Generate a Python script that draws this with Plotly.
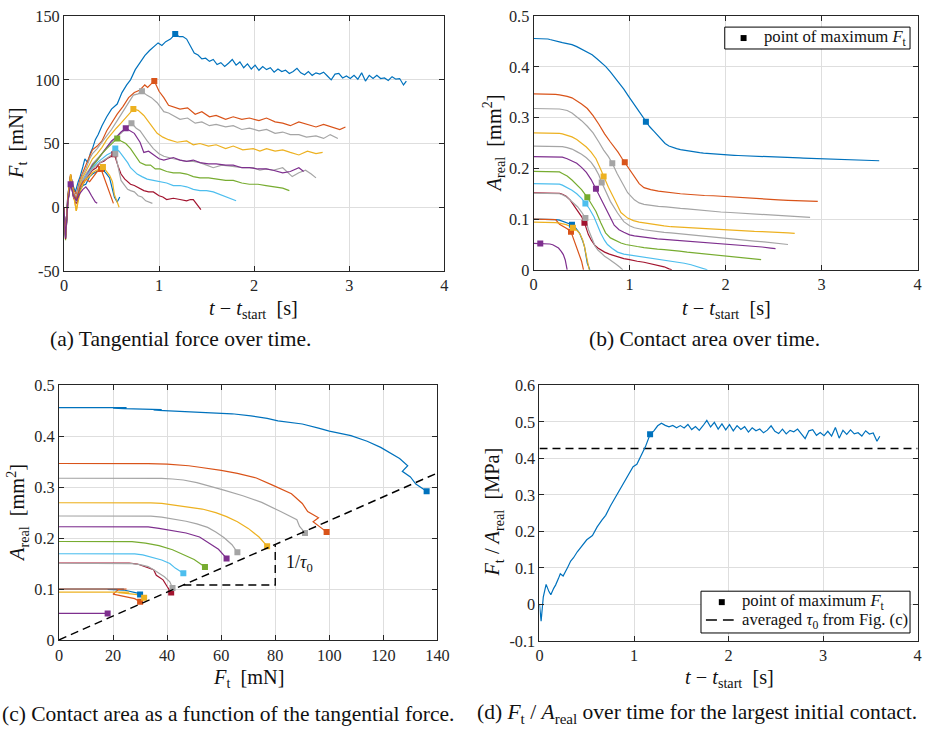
import plotly.graph_objects as go

# ---------------- data ----------------
# curve 01 (blue, largest contact)
t01 = [0, 0.017, 0.04, 0.07, 0.1, 0.12, 0.15, 0.17, 0.2, 0.22,
       0.25, 0.28, 0.3, 0.33, 0.36, 0.4, 0.45, 0.5, 0.56, 0.61,
       0.66, 0.7, 0.75, 0.8, 0.85, 0.9, 0.94, 0.99, 1.03, 1.07, 1.12,
       1.17, 1.21, 1.25, 1.29, 1.33, 1.37, 1.41, 1.45, 1.49, 1.53,
       1.57, 1.61, 1.65, 1.69, 1.73, 1.77, 1.81, 1.85, 1.89, 1.93,
       1.97, 2.01, 2.05, 2.09, 2.13, 2.17, 2.21, 2.25, 2.29, 2.33,
       2.37, 2.41, 2.45, 2.49, 2.53, 2.57, 2.61, 2.65, 2.69, 2.73,
       2.77, 2.81, 2.85, 2.89, 2.93, 2.97, 3.01, 3.05, 3.09, 3.13,
       3.17, 3.21, 3.25, 3.29, 3.33, 3.37, 3.41, 3.45, 3.49, 3.53,
       3.57, 3.6]
f01 = [0, -21, 9, 25, 16, 12, 20, 24, 32, 38,
       35, 43, 46, 53, 57, 64, 71, 77, 81, 90,
       96, 100, 108, 114, 119, 123, 126, 129, 127, 130, 132,
       136, 134, 134, 132, 126, 121, 119.5, 116.5, 117, 114.5,
       116, 112, 113.5, 110.5, 113, 116, 111.5, 114, 109.5, 112.5,
       108.5, 111.5, 107.5, 110.5, 108, 109.5, 106, 108.5, 106.5, 107.5,
       105, 106.5, 109, 105.5, 104, 106.5, 103.5, 105.5, 104.5, 106,
       103, 100, 104.5, 105, 101.5, 103, 101, 103.5, 100.5, 105.5,
       99, 103.5, 101, 103.5, 101, 101.5, 99.5, 102.5, 100.5, 101,
       96, 99]
a01 = [0.456, 0.456, 0.456, 0.456, 0.456, 0.455, 0.455, 0.454, 0.453, 0.452,
       0.451, 0.449, 0.448, 0.447, 0.446, 0.444, 0.44, 0.435, 0.43, 0.424,
       0.416, 0.41, 0.401, 0.39, 0.378, 0.366, 0.356, 0.342, 0.331, 0.32, 0.306,
       0.292, 0.282, 0.274, 0.266, 0.257, 0.249, 0.244, 0.241, 0.239, 0.237,
       0.2355, 0.234, 0.233, 0.232, 0.231, 0.2302, 0.2295, 0.2288, 0.2282, 0.2276,
       0.227, 0.2266, 0.2262, 0.2258, 0.2254, 0.225, 0.2247, 0.2244, 0.2241, 0.2238,
       0.2235, 0.2232, 0.2229, 0.2226, 0.2223, 0.222, 0.2217, 0.2214, 0.2211, 0.2208,
       0.2205, 0.2202, 0.2199, 0.2196, 0.2193, 0.219, 0.2187, 0.2184, 0.2181, 0.2178,
       0.2175, 0.2172, 0.2169, 0.2166, 0.2163, 0.216, 0.2158, 0.2156, 0.2154, 0.2152,
       0.215, 0.215]

# curve 02 (orange)
t02 = [0, 0.017, 0.04, 0.07, 0.1, 0.13, 0.17, 0.2, 0.23, 0.27,
       0.3, 0.35, 0.4, 0.45, 0.5, 0.56, 0.62, 0.68, 0.74, 0.8,
       0.85, 0.88, 0.92, 0.95, 1.0, 1.05, 1.1, 1.15, 1.22, 1.3,
       1.38, 1.45, 1.53, 1.6, 1.7, 1.78, 1.87, 1.95, 2.05, 2.13,
       2.22, 2.3, 2.38, 2.47, 2.55, 2.65, 2.73, 2.82, 2.9, 2.96]
f02 = [0, -22, 8, 26, 14, 10, 22, 28, 33, 40,
       45, 48, 52, 60, 66, 73, 79, 86, 90, 92,
       96, 94, 97, 99, 91, 86, 80, 79, 77, 78,
       73, 75, 71, 72, 69, 71, 69, 70, 68, 70,
       67, 66, 64, 67, 65, 63, 65, 63, 61, 63]
a02 = [0.347, 0.347, 0.347, 0.347, 0.347, 0.347, 0.347, 0.347, 0.346, 0.345,
       0.344, 0.342, 0.339, 0.333, 0.327, 0.318, 0.304, 0.287, 0.268, 0.252,
       0.24, 0.232, 0.22, 0.212, 0.197, 0.183, 0.17, 0.162, 0.158, 0.155,
       0.153, 0.151, 0.15, 0.149, 0.147, 0.1465, 0.146, 0.145, 0.143, 0.142,
       0.141, 0.1405, 0.14, 0.139, 0.138, 0.137, 0.1365, 0.136, 0.1355, 0.135]

# curve 03 (grey)
t03 = [0, 0.017, 0.04, 0.07, 0.1, 0.13, 0.17, 0.2, 0.23, 0.27,
       0.3, 0.35, 0.4, 0.45, 0.5, 0.56, 0.62, 0.68, 0.73, 0.78,
       0.82, 0.87, 0.92, 0.98, 1.05, 1.1, 1.15, 1.22, 1.3, 1.38,
       1.45, 1.53, 1.6, 1.7, 1.78, 1.87, 1.95, 2.05, 2.13, 2.22,
       2.3, 2.38, 2.47, 2.55, 2.65, 2.73, 2.8, 2.88]
f03 = [0, -22, 6, 24, 12, 8, 20, 26, 30, 38,
       42, 46, 51, 56, 61, 68, 75, 82, 88, 89,
       91, 88, 86, 82, 75, 74, 72, 69, 70, 66,
       67, 64, 65, 63, 64, 61, 62, 60, 61, 58,
       59, 57, 57, 55, 56, 54, 57, 54]
a03 = [0.318, 0.318, 0.318, 0.318, 0.318, 0.318, 0.318, 0.318, 0.318, 0.317,
       0.316, 0.314, 0.309, 0.302, 0.294, 0.283, 0.27, 0.252, 0.236, 0.223,
       0.21, 0.19, 0.172, 0.152, 0.138, 0.132, 0.129, 0.127, 0.125, 0.124,
       0.122, 0.121, 0.12, 0.118, 0.117, 0.116, 0.114, 0.113, 0.112, 0.111,
       0.11, 0.109, 0.108, 0.107, 0.106, 0.105, 0.104, 0.1035]

# curve 04 (yellow)
t04 = [0, 0.017, 0.04, 0.07, 0.1, 0.13, 0.17, 0.2, 0.23, 0.27,
       0.3, 0.35, 0.4, 0.45, 0.5, 0.55, 0.6, 0.65, 0.69, 0.73,
       0.78, 0.84, 0.91, 0.98, 1.04, 1.1, 1.19, 1.29, 1.36, 1.43,
       1.52, 1.6, 1.7, 1.78, 1.88, 1.99, 2.06, 2.13, 2.22, 2.3,
       2.38, 2.47, 2.56, 2.65, 2.72]
f04 = [0, -23, 5, 25, 10, -3, 18, 24, 28, 34,
       38, 42, 47, 53, 58, 62, 66, 70, 74, 77,
       76, 72, 65, 58, 55, 53, 51, 52, 49, 50,
       48, 49, 46, 48, 45, 46, 44, 46, 44, 45,
       43, 41, 44, 42, 43]
a04 = [0.27, 0.27, 0.27, 0.27, 0.27, 0.27, 0.27, 0.27, 0.27, 0.269,
       0.268, 0.265, 0.262, 0.257, 0.25, 0.242, 0.232, 0.219, 0.202, 0.184,
       0.163, 0.14, 0.113, 0.102, 0.097, 0.094, 0.091, 0.088, 0.0865, 0.085,
       0.084, 0.083, 0.0815, 0.081, 0.08, 0.0785, 0.078, 0.0775, 0.077, 0.076,
       0.0755, 0.075, 0.074, 0.073, 0.072]

# curve 05 (grey)
t05 = [0, 0.017, 0.04, 0.07, 0.1, 0.13, 0.17, 0.2, 0.23, 0.27,
       0.3, 0.35, 0.4, 0.45, 0.5, 0.55, 0.6, 0.64, 0.68, 0.71,
       0.76, 0.8, 0.875, 0.94, 1.0, 1.05, 1.15, 1.22, 1.29, 1.36,
       1.43, 1.5, 1.57, 1.66, 1.78, 1.88, 1.99, 2.06, 2.125, 2.2,
       2.3, 2.4, 2.47, 2.54, 2.6, 2.65]
f05 = [0, -24, 4, 23, 10, 5, 16, 22, 26, 30,
       34, 38, 42, 47, 51, 55, 58, 61, 64, 66,
       62, 60, 52, 46, 42, 40, 38, 37, 36, 36,
       35, 33, 31, 33, 32, 31, 31, 29, 30, 29,
       31, 24, 27, 29, 26, 23]
a05 = [0.244, 0.244, 0.244, 0.244, 0.244, 0.244, 0.244, 0.244, 0.244, 0.2435,
       0.243, 0.241, 0.238, 0.233, 0.228, 0.221, 0.212, 0.201, 0.187, 0.172,
       0.152, 0.135, 0.112, 0.095, 0.087, 0.083, 0.079, 0.077, 0.0755, 0.074,
       0.0728, 0.0715, 0.07, 0.068, 0.065, 0.0635, 0.061, 0.06, 0.059, 0.058,
       0.0565, 0.055, 0.054, 0.052, 0.051, 0.05]

# curve 06 (purple)
t06 = [0, 0.017, 0.04, 0.07, 0.1, 0.13, 0.17, 0.2, 0.23, 0.27,
       0.3, 0.35, 0.4, 0.45, 0.5, 0.55, 0.6, 0.65, 0.7, 0.74,
       0.8, 0.84, 0.89, 0.94, 1.0, 1.05, 1.15, 1.22, 1.29, 1.36,
       1.43, 1.52, 1.6, 1.7, 1.78, 1.87, 1.95, 2.04, 2.125, 2.2,
       2.3, 2.38, 2.47, 2.52]
f06 = [0, -25, 3, 22, 8, 3, 15, 20, 24, 29,
       33, 37, 42, 47, 52, 55, 59, 62, 60, 58,
       51, 43, 44, 41, 38, 37, 39, 37, 36, 37,
       35, 34, 34, 33, 33, 31, 31, 30, 30, 29,
       27, 28, 31, 28]
a06 = [0.223, 0.223, 0.223, 0.223, 0.223, 0.223, 0.223, 0.223, 0.223, 0.2225,
       0.222, 0.219, 0.215, 0.21, 0.202, 0.192, 0.178, 0.16, 0.14, 0.127,
       0.103, 0.088, 0.079, 0.074, 0.069, 0.067, 0.064, 0.062, 0.061, 0.06,
       0.059, 0.058, 0.057, 0.055, 0.054, 0.053, 0.052, 0.05, 0.049, 0.048,
       0.046, 0.045, 0.043, 0.042]

# curve 07 (green)
t07 = [0, 0.017, 0.04, 0.07, 0.1, 0.13, 0.17, 0.2, 0.23, 0.27,
       0.3, 0.35, 0.4, 0.45, 0.5, 0.56,
       0.6, 0.65, 0.7, 0.75, 0.8, 0.86, 0.91, 0.96, 1.01, 1.08,
       1.15, 1.22, 1.29, 1.36, 1.43,
       1.52, 1.6, 1.7, 1.78, 1.87, 1.95, 2.04, 2.125, 2.2, 2.3, 2.37]
f07 = [0, -26, 2, 22, 9, 4, 15, 19, 22, 27,
       32, 37, 42, 46, 50, 54,
       52, 50, 46, 40, 35, 33, 33, 30, 30, 28,
       27, 27, 26, 24, 23,
       23, 22, 21, 21, 19, 18, 18, 17, 16, 15, 13]
a07 = [0.194, 0.194, 0.194, 0.194, 0.194, 0.194, 0.194, 0.194, 0.194, 0.193,
       0.19, 0.185, 0.177, 0.168, 0.158, 0.143,
       0.13, 0.115, 0.093, 0.073, 0.063, 0.057, 0.053, 0.05, 0.048, 0.046,
       0.044, 0.042, 0.041, 0.04, 0.039,
       0.037, 0.035, 0.033, 0.031, 0.03, 0.028, 0.026, 0.025, 0.023, 0.021, 0.02]

# curve 08 (light blue)
t08 = [0, 0.017, 0.04, 0.07, 0.1, 0.13, 0.17, 0.2, 0.23, 0.27,
       0.3, 0.35, 0.4, 0.45, 0.5, 0.54,
       0.58, 0.63, 0.67, 0.7, 0.74, 0.77, 0.82, 0.875, 0.94, 1.01,
       1.08, 1.15, 1.22, 1.29, 1.36, 1.43, 1.5, 1.57, 1.64, 1.71,
       1.76, 1.81]
f08 = [0, -24, 3, 23, 9, 5, 16, 20, 24, 28,
       31, 35, 38, 41, 43, 46,
       44, 39, 35, 31, 28, 26, 24, 22, 21, 20,
       19, 17, 17, 16, 14, 13, 13, 12, 10, 8,
       7, 5]
a08 = [0.17, 0.17, 0.17, 0.17, 0.17, 0.17, 0.17, 0.17, 0.17, 0.169,
       0.167, 0.162, 0.157, 0.15, 0.141, 0.131,
       0.121, 0.104, 0.084, 0.072, 0.058, 0.05, 0.042, 0.035, 0.031, 0.029,
       0.027, 0.025, 0.024, 0.022, 0.02, 0.018, 0.016, 0.013, 0.01, 0.0065,
       0.003, 0]

# curve 09 (dark red)
t09 = [0, 0.017, 0.04, 0.07, 0.1, 0.13, 0.17, 0.2, 0.23, 0.27,
       0.3, 0.34, 0.38, 0.42, 0.46, 0.5, 0.53,
       0.57, 0.6, 0.64, 0.67, 0.7, 0.74, 0.79, 0.84, 0.89, 0.94,
       1.0, 1.04, 1.08, 1.15, 1.22, 1.29, 1.33, 1.36, 1.41, 1.44]
f09 = [0, -25, 2, 21, 8, 3, 14, 18, 22, 26,
       29, 31, 35, 36, 38.5, 40, 41.5,
       32, 26, 22, 20, 18, 17, 15, 13, 12, 12,
       9, 8, 6, 7, 6, 5, 6, 6, 1, -2]
a09 = [0.152, 0.152, 0.152, 0.152, 0.152, 0.152, 0.152, 0.152, 0.152, 0.151,
       0.149, 0.145, 0.138, 0.127, 0.118, 0.105, 0.093,
       0.07, 0.059, 0.048, 0.043, 0.039, 0.035, 0.031, 0.028, 0.025, 0.022,
       0.02, 0.018, 0.017, 0.015, 0.012, 0.009, 0.008, 0.006, 0.002, 0]

# curve 10 (grey)
t10 = [0, 0.017, 0.04, 0.07, 0.1, 0.13, 0.17, 0.2, 0.23, 0.27,
       0.3, 0.34, 0.38, 0.42, 0.46, 0.5, 0.54,
       0.57, 0.6, 0.64, 0.67, 0.7, 0.74, 0.78, 0.82, 0.86, 0.9, 0.93]
f10 = [0, -23, 4, 22, 9, 4, 15, 19, 23, 27,
       30, 33, 35, 37, 39, 41, 42,
       30, 21, 17, 14, 13, 12, 9, 8, 5, 4, 3]
a10 = [0.151, 0.151, 0.151, 0.151, 0.151, 0.151, 0.151, 0.151, 0.151, 0.15,
       0.148, 0.144, 0.138, 0.131, 0.124, 0.114, 0.102,
       0.08, 0.064, 0.047, 0.039, 0.033, 0.027, 0.022, 0.017, 0.011, 0.005, 0]

# curve 11 (blue, small)
t11 = [0, 0.017, 0.04, 0.07, 0.1, 0.13, 0.17, 0.2, 0.23, 0.27,
       0.3, 0.34, 0.37, 0.4, 0.44, 0.48, 0.51, 0.53, 0.56, 0.587]
f11 = [0, -22, 5, 24, 10, 6, 14, 17, 18, 24,
       26, 28, 29, 30, 27, 23, 15, 8, 4, 8]
a11 = [0.1, 0.1, 0.1, 0.1, 0.1, 0.1, 0.1, 0.0995, 0.099, 0.098,
       0.096, 0.094, 0.092, 0.089, 0.082, 0.072, 0.058, 0.046, 0.013, 0]

# curve 12 (orange, small)
t12 = [0, 0.017, 0.04, 0.07, 0.1, 0.13, 0.17, 0.2, 0.23, 0.27,
       0.31, 0.35, 0.39, 0.42, 0.45, 0.48, 0.5, 0.52]
f12 = [0, -22, 6, 25, 11, 6, 16, 20, 22, 20,
       24, 28, 30, 24, 18, 12, 8, 3]
a12 = [0.1, 0.1, 0.1, 0.1, 0.1, 0.1, 0.1, 0.0995, 0.099, 0.09,
       0.086, 0.081, 0.075, 0.06, 0.046, 0.03, 0.017, 0]

# curve 13 (yellow, small)
t13 = [0, 0.017, 0.04, 0.07, 0.1, 0.13, 0.17, 0.2, 0.23, 0.27,
       0.3, 0.34, 0.38, 0.41, 0.45, 0.48, 0.51, 0.53, 0.56, 0.58]
f13 = [0, -23, 4, 26, 10, -3, 12, 18, 22, 24,
       27, 29, 30, 31.5, 28, 25, 20, 10, 4, 0]
a13 = [0.094, 0.094, 0.094, 0.094, 0.094, 0.094, 0.094, 0.0935, 0.093, 0.092,
       0.091, 0.089, 0.086, 0.083, 0.078, 0.072, 0.06, 0.046, 0.015, 0]

# curve 14 (purple, small)
t14 = [0, 0.017, 0.04, 0.07, 0.1, 0.13, 0.17, 0.2, 0.23, 0.26, 0.29, 0.31, 0.33, 0.35]
f14 = [0, -24, 4, 18, 9, 5, 11, 14, 16, 13, 9, 6, 4, 3]
a14 = [0.052, 0.052, 0.052, 0.052, 0.0518, 0.0515, 0.051, 0.0495, 0.047, 0.043,
       0.036, 0.03, 0.0195, 0]

tau0 = 0.427  # MPa, averaged interfacial shear strength (slope 1/tau0 in Fig. c)

# tick labels
ticks_a_y = [-50, 0, 50, 100, 150]
ticks_t = [0, 1, 2, 3, 4]
ticks_area = [0, 0.1, 0.2, 0.3, 0.4, 0.5]
ticks_force = [0, 20, 40, 60, 80, 100, 120, 140]
ticks_d_y = [-0.1, 0, 0.1, 0.2, 0.3, 0.4, 0.5, 0.6]

# ---------------- styles ----------------
BLUE, ORANGE, YELLOW, PURPLE = '#0072BD', '#D95319', '#EDB120', '#7E2F8E'
GREEN, LBLUE, DRED, GREY = '#77AC30', '#4DBEEE', '#A2142F', '#A5A5A5'
curves = [(t01, f01, a01, BLUE), (t02, f02, a02, ORANGE), (t03, f03, a03, GREY),
          (t04, f04, a04, YELLOW), (t05, f05, a05, GREY), (t06, f06, a06, PURPLE),
          (t07, f07, a07, GREEN), (t08, f08, a08, LBLUE), (t09, f09, a09, DRED),
          (t10, f10, a10, GREY), (t11, f11, a11, BLUE), (t12, f12, a12, ORANGE),
          (t13, f13, a13, YELLOW), (t14, f14, a14, PURPLE)]
for i, (t, f, a, c) in enumerate(curves):
    assert len(t) == len(f) == len(a), (i + 1, len(t), len(f), len(a))

FONT = 'Liberation Serif'
TXT = '#262626'
LW = 1.2
MS = 6
DASH = '8px,5px'

fig = go.Figure()

for t, f, a, c in curves:
    k = max(range(len(f)), key=lambda j: f[j])
    fig.add_trace(go.Scatter(x=t, y=f, mode='lines', line=dict(color=c, width=LW),
                             xaxis='x', yaxis='y', showlegend=False, hoverinfo='skip'))
    fig.add_trace(go.Scatter(x=t, y=a, mode='lines', line=dict(color=c, width=LW),
                             xaxis='x2', yaxis='y2', showlegend=False, hoverinfo='skip'))
    fig.add_trace(go.Scatter(x=f[:k + 1], y=a[:k + 1], mode='lines', line=dict(color=c, width=LW),
                             xaxis='x3', yaxis='y3', showlegend=False, hoverinfo='skip'))

for t, f, a, c in curves:
    k = max(range(len(f)), key=lambda j: f[j])
    mk = dict(symbol='square', size=MS, color=c)
    fig.add_trace(go.Scatter(x=[t[k]], y=[f[k]], mode='markers', marker=mk,
                             xaxis='x', yaxis='y', showlegend=False, hoverinfo='skip'))
    fig.add_trace(go.Scatter(x=[t[k]], y=[a[k]], mode='markers', marker=mk,
                             xaxis='x2', yaxis='y2', showlegend=False, hoverinfo='skip'))
    fig.add_trace(go.Scatter(x=[f[k]], y=[a[k]], mode='markers', marker=mk,
                             xaxis='x3', yaxis='y3', showlegend=False, hoverinfo='skip'))

# (c) line A = F / tau0 and slope triangle
f_line = [0, 140]
fig.add_trace(go.Scatter(x=f_line, y=[v / tau0 / 1000 for v in f_line], mode='lines',
                         line=dict(color='black', width=1.4, dash=DASH),
                         xaxis='x3', yaxis='y3', showlegend=False, hoverinfo='skip'))
tri_f = [46, 80, 80]
tri_a = [tri_f[0] / tau0 / 1000, tri_f[0] / tau0 / 1000, tri_f[2] / tau0 / 1000]
fig.add_trace(go.Scatter(x=tri_f, y=tri_a, mode='lines',
                         line=dict(color='black', width=1.4, dash=DASH),
                         xaxis='x3', yaxis='y3', showlegend=False, hoverinfo='skip'))

# (d) Ft / A for the largest contact
ratio = [fv / av / 1000 for fv, av in zip(f01, a01)]
k1 = max(range(len(f01)), key=lambda j: f01[j])
fig.add_trace(go.Scatter(x=[0, 4], y=[tau0, tau0], mode='lines',
                         line=dict(color='black', width=1.4, dash=DASH),
                         xaxis='x4', yaxis='y4', showlegend=False, hoverinfo='skip'))
fig.add_trace(go.Scatter(x=t01, y=ratio, mode='lines', line=dict(color=BLUE, width=LW),
                         xaxis='x4', yaxis='y4', showlegend=False, hoverinfo='skip'))
fig.add_trace(go.Scatter(x=[t01[k1]], y=[ratio[k1]], mode='markers',
                         marker=dict(symbol='square', size=MS, color=BLUE),
                         xaxis='x4', yaxis='y4', showlegend=False, hoverinfo='skip'))

# The page is photographed with a small offset/shrink (measured: X = 2.5 + 0.992 x,
# Y = 7.8 + 0.979 y); positions below are target picture pixels mapped back to paper.
SX, OX, SY, OY = 0.992, 2.5, 0.979, 7.8


def px(x):
    return min(1.0, max(0.0, (x - OX) / SX / 931))


def py(y):
    return min(1.0, max(0.0, 1 - (y - OY) / SY / 730))


def axis(dom, rng, vals, anchor):
    return dict(domain=dom, range=rng, anchor=anchor, tickmode='array', tickvals=vals,
                ticktext=['%g' % v for v in vals],
                showline=True, linecolor=TXT, linewidth=1, mirror='ticks',
                ticks='inside', ticklen=5, tickcolor=TXT, tickwidth=1,
                showgrid=True, gridcolor='#DEDEDE', gridwidth=1, zeroline=False,
                tickfont=dict(family=FONT, size=16.3, color=TXT), fixedrange=True)


fig.update_layout(
    width=931, height=730, autosize=False, margin=dict(l=0, r=0, t=0, b=0),
    paper_bgcolor='white', plot_bgcolor='white', showlegend=False,
    font=dict(family=FONT, size=16, color=TXT),
    xaxis=axis([px(63), px(447)], [0, 4], ticks_t, 'y'),
    yaxis=axis([py(271), py(15)], [-50, 150], ticks_a_y, 'x'),
    xaxis2=axis([px(537), 0.9985], [0, 4], ticks_t, 'y2'),
    yaxis2=axis([py(270), py(15)], [0, 0.5], ticks_area, 'x2'),
    xaxis3=axis([px(58), px(440)], [0, 140], ticks_force, 'y3'),
    yaxis3=axis([py(642), py(386)], [0, 0.5], ticks_area, 'x3'),
    xaxis4=axis([px(543), 0.9985], [0, 4], ticks_t, 'y4'),
    yaxis4=axis([py(643), py(386)], [-0.1, 0.6], ticks_d_y, 'x4'),
)

# ---- legend boxes (drawn as layout shapes + text) ----
shapes = []


def box(x0, y0, x1, y1):
    shapes.append(dict(type='rect', xref='paper', yref='paper', layer='above',
                       x0=px(x0), x1=px(x1), y0=py(y1), y1=py(y0),
                       line=dict(color='black', width=1), fillcolor='white'))


def square(xc, yc, s=6):
    shapes.append(dict(type='rect', xref='paper', yref='paper', layer='above',
                       x0=px(xc - s / 2), x1=px(xc + s / 2), y0=py(yc + s / 2), y1=py(yc - s / 2),
                       line=dict(width=0), fillcolor='black'))


box(730, 26, 917, 48)
square(749, 37)
box(706, 593, 917, 635)
square(727, 604)
shapes.append(dict(type='line', xref='paper', yref='paper', layer='above',
                   x0=px(711), x1=px(739), y0=py(622), y1=py(622),
                   line=dict(color='black', width=1.4, dash='11px,6px')))
fig.update_layout(shapes=shapes)

T_LABEL = '<i>t</i> − <i>t</i><sub>start</sub>  [s]'
F_LABEL = '<i>F</i><sub>t</sub>  [mN]'
A_LABEL = '<i>A</i><sub>real</sub>  [mm<sup>2</sup>]'
R_LABEL = '<i>F</i><sub>t</sub> / <i>A</i><sub>real</sub>  [MPa]'
LEG_MAX = 'point of maximum <i>F</i><sub>t</sub>'
LEG_TAU = 'averaged <i>τ</i><sub>0</sub> from Fig. (c)'

ann = [
    (254, 310, T_LABEL, 0, 20.3, 'center', None), (732, 310, T_LABEL, 0, 20.3, 'center', None),
    (249, 681, F_LABEL, 0, 20.3, 'center', None), (735, 681, T_LABEL, 0, 20.3, 'center', None),
    (16, 143, F_LABEL, -90, 20.3, 'center', None), (497, 143, A_LABEL, -90, 20.3, 'center', None),
    (16, 514, A_LABEL, -90, 20.3, 'center', None), (497, 513, R_LABEL, -90, 20.3, 'center', None),
    (181, 340, '(a) Tangential force over time.', 0, 21.5, 'center', None),
    (710, 340, '(b) Contact area over time.', 0, 21.5, 'center', None),
    (229, 716, '(c) Contact area as a function of the tangential force.', 0, 21.5, 'center', None),
    (702, 716, '(d) <i>F</i><sub>t</sub> / <i>A</i><sub>real</sub> over time for the largest initial contact.', 0, 21.5, 'center', None),
    (768, 37, LEG_MAX, 0, 16.7, 'left', 18),
    (745, 604, LEG_MAX, 0, 16.7, 'left', 18),
    (745, 623, LEG_TAU, 0, 16.7, 'left', 18),
]
annotations = []
for x, y, txt, ang, sz, xa, h in ann:
    d = dict(x=px(x), y=py(y), xref='paper', yref='paper', text=txt,
             showarrow=False, textangle=ang, xanchor=xa, yanchor='middle',
             font=dict(family=FONT, size=sz, color='#111111'))
    if h:
        d['height'] = h
        d['valign'] = 'middle'
    annotations.append(d)
annotations.append(dict(x=89, y=0.15, xref='x3', yref='y3', text='1/<i>τ</i><sub>0</sub>',
                        showarrow=False, xanchor='center', yanchor='middle',
                        font=dict(family=FONT, size=18, color='#111111')))
fig.update_layout(annotations=annotations)

fig.write_html('out.html')
